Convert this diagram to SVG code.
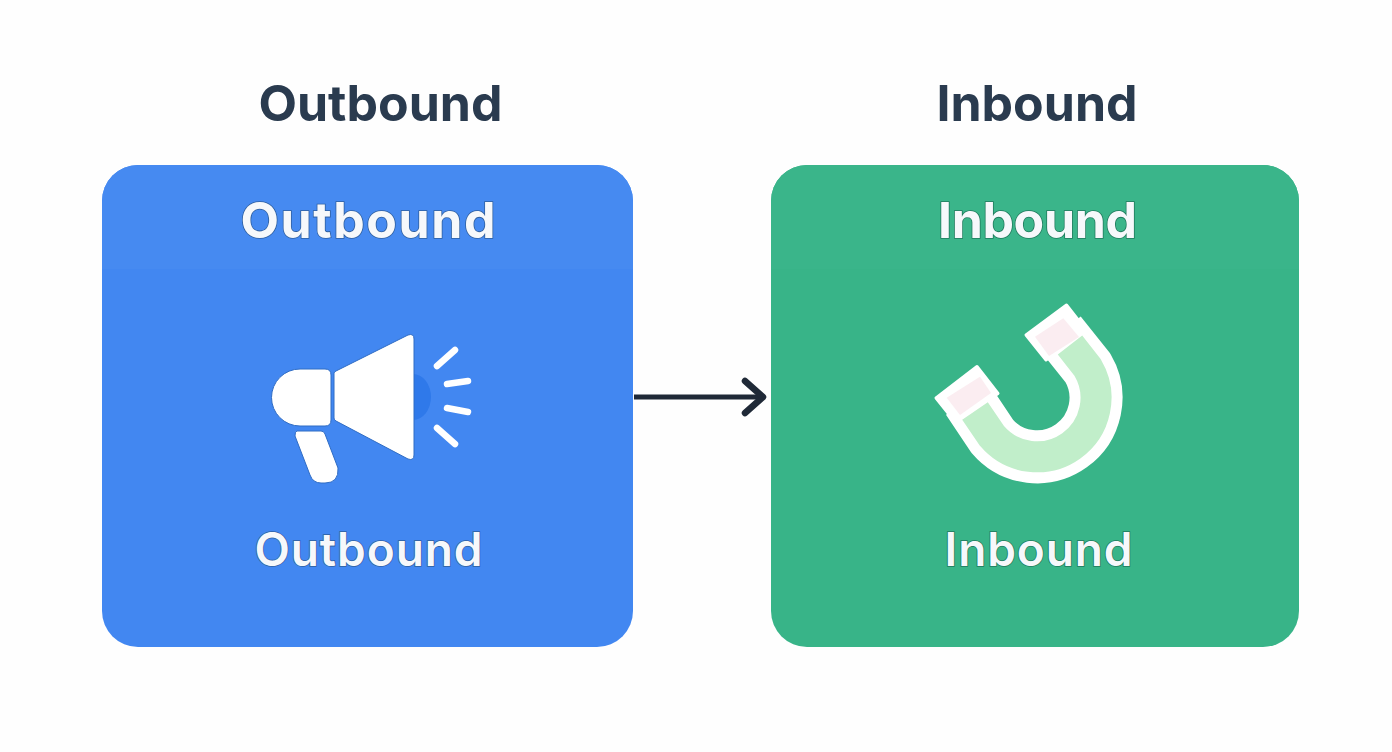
<svg xmlns="http://www.w3.org/2000/svg" width="1392" height="752" viewBox="0 0 1392 752">
<defs>
<style>
text{font-family:"Inter","Liberation Sans",sans-serif;text-anchor:middle}
.title{font-size:50px;font-weight:700;fill:#2a3b4f}
.head{font-size:50px;font-weight:700;fill:#f6f8fb;stroke:#2f5f9f;stroke-width:1.6px;paint-order:stroke}
.foot{font-size:46px;font-weight:600;fill:#f6f8fb;stroke:#2f5f9f;stroke-width:1.6px;paint-order:stroke}
.g{stroke:#1f7a5c}
.ray{fill:none;stroke:#fff;stroke-width:6.500px;stroke-linecap:round}
.ico{fill:#fff;stroke:#2f6cc4;stroke-width:1px;stroke-linejoin:round}
</style>
<clipPath id="blueClip"><rect x="102" y="165" width="531" height="482" rx="36"/></clipPath>
<clipPath id="greenClip"><rect x="771" y="165" width="528" height="482" rx="36"/></clipPath>
</defs>
<rect width="1392" height="752" fill="#fefefe"/>
<text class="title" x="380.500" y="120.500">Outbound</text>
<text class="title" x="1037" y="120.500">Inbound</text>
<g id="outbound-card">
<rect x="102" y="165" width="531" height="482" rx="36" fill="#4287f1"/>
<rect x="102" y="165" width="531" height="104" fill="#468af1" clip-path="url(#blueClip)"/>
<text class="head" x="368" y="238" textLength="255">Outbound</text>
<text class="foot" x="368.500" y="566" textLength="228">Outbound</text>
<g id="megaphone">
<ellipse cx="413" cy="397" rx="18" ry="23" fill="#2f79ea"/>
<path class="ico" d="M300 369H325Q331 369 331 375V420Q331 426 325 426H300A28.500 28.500 0 0 1 300 369Z"/>
<path class="ico" d="M297 431H321Q324 431 325 434L338 468Q339 483 325 483H321Q313 483 310 475L295 436Q295 431 297 431Z"/>
<path class="ico" d="M334 373Q334 372 336 371L408 335Q414 333 414 339V455Q414 461 408 459L336 421Q334 420 334 418Z"/>
<path class="ray" d="M437 366L455 350M447 384L468 381M447 408L468 412M437 428L455 444"/>
</g>
</g>
<g id="inbound-card">
<rect x="771" y="165" width="528" height="482" rx="36" fill="#38b488"/>
<rect x="771" y="165" width="528" height="104" fill="#3ab58a" clip-path="url(#greenClip)"/>
<text class="head g" x="1037.500" y="238" textLength="199">Inbound</text>
<text class="foot g" x="1038.500" y="566" textLength="188">Inbound</text>
<g id="magnet">
<path d="M968 400L992.200 436.200A59 59 0 0 0 1087.800 367.800L1060 333" fill="none" stroke="#fff" stroke-width="53"/>
<path d="M936 398L977 366.500L998 393.500L956 423Z" fill="#fff" stroke="#fff" stroke-width="3" stroke-linejoin="round"/>
<path d="M1026 335L1066.500 305L1086 330L1046 360Z" fill="#fff" stroke="#fff" stroke-width="3" stroke-linejoin="round"/>
<path d="M946.700 397.700L980 376.700L991 393L960 415Z" fill="#fbedf1"/>
<path d="M1035 336.700L1063.300 318.300L1079 337L1049 356Z" fill="#fbedf1"/>
<path d="M975 411L992.200 436.200A59 59 0 0 0 1087.800 367.800L1070 345" fill="none" stroke="#c1eeca" stroke-width="31"/>
</g>
</g>
<g id="connectors" fill="none" stroke="#1f2937" stroke-linecap="round" stroke-linejoin="round">
<path d="M634 397H760" stroke-width="5" stroke-linecap="butt"/>
<path d="M745 381L763 397L745 413" stroke-width="6.500"/>
</g>
</svg>
